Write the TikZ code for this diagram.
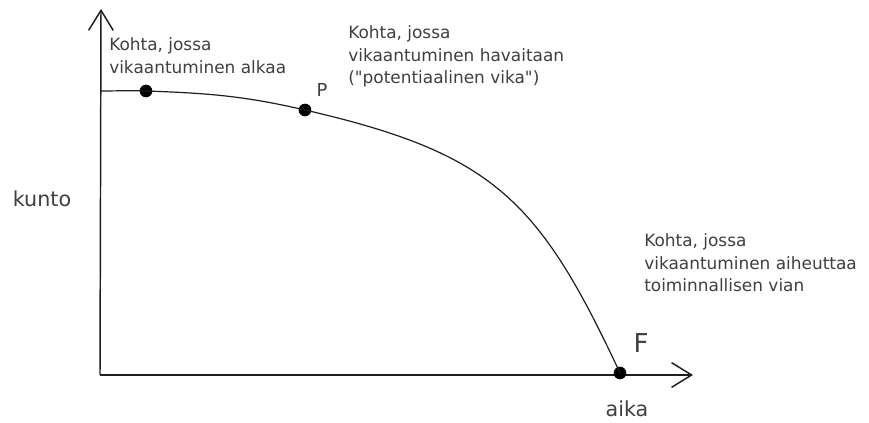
\documentclass[tikz,border=0pt]{standalone}
\usepackage{fontspec}
\setmainfont{DejaVu Sans}
\usepackage{xcolor}
\usetikzlibrary{arrows.meta, positioning}
\definecolor{txtgray}{HTML}{3F3F3F}
\definecolor{linegray}{HTML}{1E1E1E}

\begin{document}
\begin{tikzpicture}[
  x=0.75pt, y=-0.75pt,
  note/.style={font=\fontsize{12.7}{17.2}\selectfont, text=txtgray, align=left,
    anchor=north west, inner sep=0pt},
  axlabel/.style={font=\fontsize{15.5}{18}\selectfont, text=txtgray, inner sep=0pt},
  dot/.style={circle, fill=black, inner sep=0pt, minimum size=9.5pt},
  axis/.style={draw=linegray, line width=1.1pt,
    -{Straight Barb[length=15pt, width=18.5pt, line width=1.1pt]}},
]
  \useasboundingbox (0,0) rectangle (869,423);

  % axes
  \coordinate (O) at (100,375);
  \coordinate (ytop) at (101,9);
  \coordinate (xend) at (693,375);
  \draw[axis] (O) -- (ytop);
  \draw[axis] (O) -- (xend);
  \node[axlabel] (kunto) at (42,199) {kunto};
  \node[axlabel] (aika) at (627,409) {aika};

  % points on the curve
  \coordinate (start) at (100,91);
  \node[dot] (d1) at (146,91) {};
  \node[dot] (p) at (305,110) {};
  \node[dot] (f) at (620,373) {};
  \node[font=\fontsize{13.4}{14}\selectfont, text=txtgray, inner sep=0pt] (plab) at (322,90) {P};
  \node[font=\fontsize{19.5}{20}\selectfont, text=txtgray, inner sep=0pt] (flab) at (641,343) {F};

  % condition curve
  \draw[linegray, line width=0.9pt] (start) to[out=0, in=178] (d1.center)
    to[out=-2, in=167] (p.center)
    to[out=-13, in=115, looseness=1.2] (f.center);

  % notes
  \node[note] (n1) at (109,37) {Kohta, jossa\\vikaantuminen alkaa};
  \node[note] (n2) at (348,25) {Kohta, jossa\\vikaantuminen havaitaan\\(\textquotedbl potentiaalinen vika\textquotedbl)};
  \node[note] (n3) at (644,233) {Kohta, jossa\\vikaantuminen aiheuttaa\\toiminnallisen vian};
\end{tikzpicture}
\end{document}
